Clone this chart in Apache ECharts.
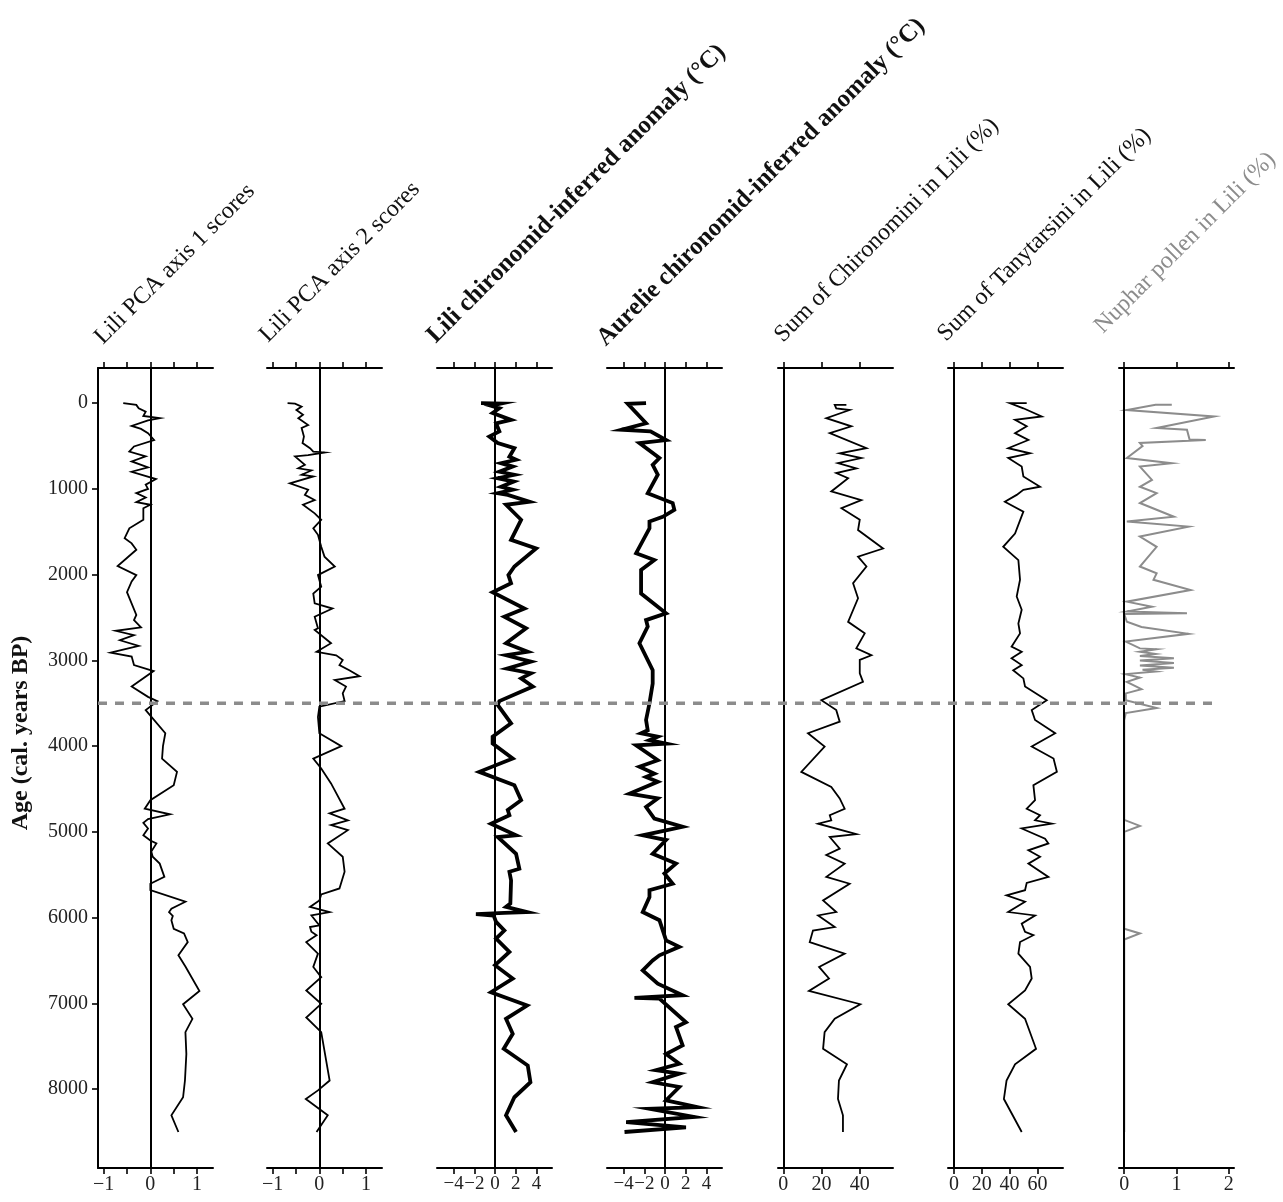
<!DOCTYPE html>
<html>
<head>
<meta charset="utf-8">
<title>Lili and Aurelie records</title>
<script src="https://cdn.jsdelivr.net/npm/echarts@6/dist/echarts.min.js"></script>
<style>
  html, body { margin: 0; padding: 0; background: #fff; }
  #chart { width: 1283px; height: 1202px; }
</style>
</head>
<body>
<div id="chart"></div>
<script>
// every record is a list of [age (cal. years BP), value]
const pca1 = [[0,-0.58],[20,-0.3],[60,-0.25],[100,-0.1],[150,-0.15],[175,0.2],[200,-0.05],[265,-0.4],[300,-0.2],[350,-0.05],[430,0.08],[505,-0.35],[565,-0.45],[620,-0.1],[680,-0.4],[750,-0.05],[800,-0.4],[885,0.12],[950,-0.1],[1000,-0.05],[1050,-0.3],[1100,-0.1],[1155,-0.3],[1185,0.0],[1225,-0.15],[1360,-0.15],[1460,-0.45],[1575,-0.55],[1635,-0.4],[1710,-0.3],[1900,-0.7],[2005,-0.3],[2080,-0.4],[2205,-0.5],[2270,-0.45],[2470,-0.3],[2530,-0.35],[2615,-0.2],[2655,-0.74],[2705,-0.35],[2765,-0.65],[2830,-0.25],[2910,-0.85],[2955,-0.4],[3055,-0.35],[3125,0.07],[3305,-0.4],[3425,-0.05],[3475,0.15],[3580,-0.1],[3850,0.32],[4000,0.27],[4145,0.25],[4300,0.57],[4455,0.5],[4630,0.0],[4730,-0.12],[4795,0.42],[4850,-0.05],[4895,-0.15],[4960,-0.05],[5040,-0.15],[5100,0.0],[5135,0.13],[5230,0.02],[5290,0.05],[5370,0.2],[5525,0.3],[5605,0.0],[5680,0.0],[5815,0.75],[5895,0.45],[5935,0.4],[5980,0.48],[6030,0.45],[6130,0.5],[6185,0.72],[6285,0.8],[6440,0.6],[6570,0.75],[6855,1.05],[7010,0.7],[7180,0.9],[7335,0.75],[7590,0.77],[7900,0.74],[8095,0.7],[8305,0.45],[8500,0.6]];

const pca2 = [[0,-0.68],[5,-0.52],[40,-0.38],[80,-0.49],[135,-0.35],[175,-0.45],[255,-0.24],[290,-0.38],[390,-0.33],[465,-0.36],[525,-0.2],[565,-0.13],[575,0.11],[605,-0.24],[620,-0.52],[720,-0.31],[760,-0.45],[785,-0.17],[835,-0.38],[855,-0.13],[935,-0.63],[1010,-0.24],[1070,-0.31],[1130,-0.1],[1185,-0.35],[1285,-0.1],[1360,0.04],[1460,-0.13],[1535,-0.03],[1675,0.04],[1790,0.11],[1905,0.33],[2005,-0.03],[2140,0.04],[2220,-0.13],[2335,-0.1],[2395,0.28],[2490,-0.1],[2625,-0.03],[2645,-0.1],[2800,0.25],[2900,-0.06],[2940,0.36],[2995,0.5],[3055,0.43],[3115,0.64],[3185,0.86],[3230,0.33],[3305,0.57],[3385,0.5],[3475,0.54],[3540,0.0],[3660,-0.03],[3850,0.0],[4000,0.47],[4145,-0.13],[4260,0.04],[4435,0.25],[4730,0.54],[4785,0.22],[4865,0.61],[4920,0.25],[4980,0.61],[5135,0.18],[5290,0.5],[5465,0.54],[5660,0.43],[5730,0.04],[5800,0.0],[5875,-0.2],[5935,0.22],[5975,-0.17],[6090,0.0],[6110,-0.2],[6165,-0.17],[6205,-0.06],[6285,-0.28],[6420,-0.03],[6575,-0.13],[6695,0.04],[6850,-0.28],[7005,0.04],[7165,-0.28],[7335,0.04],[7355,0.08],[7900,0.22],[8015,-0.03],[8115,-0.29],[8305,0.18],[8500,-0.06]];

const liliTemp = [[0,-1.35],[5,0.58],[30,-0.39],[60,0.42],[115,-0.23],[195,1.55],[235,0.1],[330,0.42],[390,-0.55],[465,0.26],[525,1.87],[625,1.39],[660,2.03],[700,0.58],[740,1.71],[800,0.42],[835,1.87],[875,0.26],[915,1.81],[975,0.58],[1010,1.71],[1050,0.26],[1070,1.23],[1150,3.32],[1185,1.06],[1360,2.52],[1595,1.55],[1695,3.97],[1905,1.87],[2005,1.29],[2100,1.55],[2205,-0.23],[2395,2.84],[2490,0.9],[2625,3.0],[2800,1.06],[2900,3.16],[2940,1.06],[3015,3.48],[3095,1.16],[3150,3.48],[3210,2.52],[3305,3.65],[3475,0.42],[3520,0.26],[3735,1.55],[3890,-0.23],[3970,-0.23],[4145,1.71],[4300,-1.52],[4455,1.87],[4630,2.52],[4745,1.23],[4805,1.39],[4905,-0.39],[5040,2.03],[5060,0.26],[5255,2.03],[5430,2.35],[5465,1.39],[5565,1.55],[5835,1.48],[5875,1.06],[5935,3.1],[5945,0.9],[5960,-1.84],[5975,-0.13],[6050,0.1],[6150,0.9],[6245,0.1],[6400,1.39],[6555,0.0],[6710,1.71],[6870,-0.39],[7025,3.1],[7180,1.06],[7355,1.71],[7530,0.84],[7725,3.16],[7920,3.42],[8095,1.87],[8305,1.06],[8500,2.03]];

const aurelieTemp = [[0,-1.83],[8,-3.6],[235,-1.83],[310,-4.2],[330,-1.4],[430,0.1],[465,-2.47],[640,-0.54],[720,-1.19],[835,-0.7],[1050,-1.67],[1165,0.74],[1245,0.9],[1325,-0.22],[1380,-1.5],[1460,-1.5],[1750,-2.79],[1830,-1.03],[1945,-2.31],[2220,-2.31],[2450,0.1],[2530,-1.83],[2605,-1.67],[2800,-2.47],[3115,-1.19],[3270,-1.19],[3500,-1.5],[3695,-1.83],[3815,-1.67],[3850,-2.31],[3890,-0.7],[3930,-1.5],[3970,0.1],[3990,-2.79],[4165,-0.7],[4240,-2.47],[4320,-1.03],[4360,-1.83],[4415,-0.7],[4555,-3.43],[4610,-0.7],[4710,-1.83],[4845,-1.03],[4940,1.7],[5040,-2.15],[5095,0.1],[5255,-1.19],[5370,1.06],[5485,-0.06],[5605,0.74],[5680,-1.5],[5760,-1.5],[5935,-2.15],[6030,-0.54],[6265,0.1],[6340,1.38],[6440,-0.54],[6500,-1.19],[6615,-2.15],[6770,-0.7],[6905,1.7],[6935,-2.95],[6945,-0.54],[7220,2.02],[7275,1.06],[7490,1.7],[7590,0.1],[7705,1.38],[7780,-0.87],[7820,1.38],[7920,-1.19],[7975,1.38],[8130,0.1],[8210,3.14],[8230,-1.5],[8325,2.82],[8385,-3.75],[8445,2.02],[8500,-3.91]];

const chironomini = [[20,33],[20,26.9],[60,27.7],[80,34.7],[175,22.5],[270,35.6],[350,24.3],[525,43.5],[585,29.5],[640,40.8],[700,28.6],[760,38.2],[815,27.7],[875,33.9],[1030,25.1],[1130,40.8],[1225,30.4],[1360,40.0],[1480,39.1],[1695,52.2],[1790,39.1],[1905,43.5],[2100,36.5],[2275,39.1],[2550,33.9],[2685,42.6],[2860,38.2],[2940,46.1],[2995,40.0],[3150,40.0],[3250,41.7],[3465,19.9],[3580,27.7],[3715,29.5],[3850,12.9],[4005,21.6],[4300,9.4],[4475,25.1],[4610,29.5],[4730,32.1],[4805,24.3],[4865,25.1],[4905,18.2],[5025,38.2],[5060,24.3],[5195,29.5],[5270,22.5],[5370,32.1],[5525,22.5],[5605,34.7],[5800,20.8],[5935,27.7],[5975,18.2],[6110,26.9],[6150,15.5],[6285,13.8],[6420,32.1],[6575,18.7],[6710,23.9],[6855,13.4],[7010,40.3],[7180,26.9],[7335,21.6],[7530,20.8],[7710,33.3],[7900,29.1],[8115,28.6],[8305,31.2],[8500,31.2]];

const tanytarsini = [[0,52.3],[0,40.2],[60,49.9],[155,63.1],[195,43.9],[270,52.3],[350,43.9],[430,53.5],[525,39.0],[585,54.7],[640,39.0],[740,48.7],[855,49.9],[975,61.9],[1010,49.9],[1070,45.1],[1150,36.6],[1265,49.9],[1520,43.9],[1675,35.4],[1830,46.3],[2060,47.5],[2255,45.1],[2410,48.7],[2570,46.3],[2685,47.5],[2840,41.4],[2900,48.7],[2975,41.4],[3055,48.7],[3115,42.6],[3210,49.9],[3305,51.1],[3465,66.7],[3580,55.9],[3695,58.3],[3850,72.8],[4005,55.9],[4145,71.6],[4300,74.0],[4455,57.1],[4630,58.3],[4730,52.3],[4805,61.9],[4865,58.3],[4905,70.4],[4960,48.7],[5080,65.5],[5135,67.9],[5215,53.5],[5290,61.9],[5370,53.5],[5525,67.9],[5595,52.3],[5680,51.1],[5740,37.8],[5815,51.1],[5935,39.0],[5975,58.3],[6070,48.7],[6165,51.1],[6205,57.1],[6285,47.5],[6420,46.3],[6575,54.7],[6710,55.9],[6850,51.1],[7010,39.0],[7180,51.1],[7530,59.0],[7710,43.9],[7900,37.8],[8115,35.9],[8500,48.7]];

const nuphar = [[20,0.91],[20,0.6],[80,0.05],[155,1.72],[290,0.62],[310,1.2],[425,1.25],[430,1.56],[465,0.3],[500,0.35],[640,0.05],[700,0.91],[740,0.3],[895,0.53],[975,0.3],[1050,0.62],[1165,0.3],[1325,0.95],[1380,0.05],[1440,1.23],[1555,0.3],[1675,0.62],[1905,0.3],[1985,0.62],[2060,0.56],[2180,1.27],[2315,0.05],[2375,0.53],[2430,0.05],[2450,1.2],[2460,0.0],[2550,0.05],[2610,0.33],[2690,1.23],[2780,0.03],[2860,0.3],[2870,0.62],[2900,0.3],[2925,0.6],[2950,0.3],[2975,0.95],[3000,0.3],[3030,0.95],[3060,0.3],[3085,0.95],[3110,0.35],[3130,0.6],[3160,0.03],[3200,0.3],[3250,0.05],[3335,0.33],[3385,0.03],[3465,0.03],[3555,0.62],[3615,0.03],[3700,0],[4860,0],[4930,0.3],[5000,0],[6130,0],[6185,0.3],[6255,0],[8500,0]];

const ageTicks = [0, 1000, 2000, 3000, 4000, 5000, 6000, 7000, 8000];
const boundaryAge = 3500;
const ageMin = -410, ageMax = 8920;

const FONT = '"Liberation Serif", "Times New Roman", serif';
const gridLefts = [98, 267, 437, 607, 778, 948, 1119];
const GRID_TOP = 368, GRID_W = 115, GRID_H = 800;

const panels = [
  { title: 'Lili PCA axis 1 scores', data: pca1, min: -1.12, max: 1.34, ticks: [-1, -0.5, 0, 0.5, 1], labels: [-1, 0, 1], lw: 1.8, color: '#000', bold: false, tx: 107, ty: 349, lf: 20 },
  { title: 'Lili PCA axis 2 scores', data: pca2, min: -1.12, max: 1.34, ticks: [-1, -0.5, 0, 0.5, 1], labels: [-1, 0, 1], lw: 1.8, color: '#000', bold: false, tx: 272, ty: 347, lf: 20 },
  { title: 'Lili chironomid-inferred anomaly (°C)', data: liliTemp, min: -5.6, max: 5.5, ticks: [-4, -2, 0, 2, 4], labels: [-4, -2, 0, 2, 4], lw: 3.8, color: '#000', bold: true, tx: 440, ty: 348, lf: 19 },
  { title: 'Aurelie chironomid-inferred anomaly (°C)', data: aurelieTemp, min: -5.6, max: 5.5, ticks: [-4, -2, 0, 2, 4], labels: [-4, -2, 0, 2, 4], lw: 3.8, color: '#000', bold: true, tx: 610, ty: 351, lf: 19 },
  { title: 'Sum of Chironomini in Lili (%)', data: chironomini, min: -2.8, max: 57.4, ticks: [0, 20, 40], labels: [0, 20, 40], lw: 1.8, color: '#000', bold: false, tx: 787, ty: 347, lf: 20 },
  { title: 'Sum of Tanytarsini in Lili (%)', data: tanytarsini, min: -4.3, max: 78.4, ticks: [0, 20, 40, 60], labels: [0, 20, 40, 60], lw: 1.8, color: '#000', bold: false, tx: 950, ty: 346, lf: 20 },
  { title: 'Nuphar pollen in Lili (%)', data: nuphar, min: -0.1, max: 2.1, ticks: [0, 1, 2], labels: [0, 1, 2], lw: 2, color: '#8c8c8c', bold: false, tx: 1107, ty: 338, lf: 20 }
];

const minus = v => String(v).replace('-', '\u2212');

const grid = [], xAxis = [], yAxis = [], series = [], graphic = [];

panels.forEach((p, i) => {
  grid.push({ left: gridLefts[i], top: GRID_TOP, width: GRID_W, height: GRID_H });

  const base = {
    type: 'value', gridIndex: i, min: p.min, max: p.max,
    axisLine: { onZero: false, lineStyle: { color: '#000', width: 2 } },
    axisTick: { customValues: p.ticks, length: 6, lineStyle: { color: '#000', width: 1.6 } },
    splitLine: { show: false }
  };
  xAxis.push(Object.assign({}, base, { position: 'top', axisLabel: { show: false } }));
  xAxis.push(Object.assign({}, base, {
    position: 'bottom',
    axisLabel: {
      customValues: p.labels, margin: 7, fontFamily: FONT, fontSize: p.lf, color: '#222',
      showMinLabel: true, showMaxLabel: true, hideOverlap: false, formatter: minus
    }
  }));

  yAxis.push({
    type: 'value', gridIndex: i, inverse: true, min: ageMin, max: ageMax,
    show: i === 0,
    axisLine: { onZero: false, lineStyle: { color: '#000', width: 2 } },
    axisTick: { customValues: ageTicks, length: 6, lineStyle: { color: '#000', width: 1.6 } },
    axisLabel: {
      customValues: ageTicks, margin: 10, fontFamily: FONT, fontSize: 20, color: '#222',
      formatter: v => String(v)
    },
    splitLine: { show: false }
  });

  series.push({
    type: 'line', xAxisIndex: 2 * i + 1, yAxisIndex: i,
    data: p.data.map(d => [d[1], d[0]]),
    showSymbol: false, symbol: 'none', silent: true, z: 2,
    lineStyle: { color: p.color, width: p.lw, join: 'miter' }
  });
  // zero line
  series.push({
    type: 'line', xAxisIndex: 2 * i + 1, yAxisIndex: i, data: [], z: 3, silent: true,
    markLine: {
      silent: true, symbol: ['none', 'none'], label: { show: false },
      lineStyle: { color: '#000', width: 2, type: 'solid' },
      emphasis: { disabled: true },
      data: [{ xAxis: 0 }]
    }
  });

  graphic.push({
    type: 'text', x: p.tx, y: p.ty, rotation: Math.PI / 4, silent: true,
    style: {
      text: p.title, fontFamily: FONT, fontSize: p.bold ? 25 : 24, fontWeight: p.bold ? 'bold' : 'normal',
      fill: p.color === '#000' ? '#111' : p.color,
      align: 'left', verticalAlign: 'bottom', textAlign: 'left', textVerticalAlign: 'bottom'
    }
  });
});

// overlay grid for the dashed boundary across all panels
grid.push({ left: 98, top: GRID_TOP, width: 1122, height: GRID_H });
xAxis.push({ type: 'value', gridIndex: 7, min: 0, max: 1, show: false });
yAxis.push({ type: 'value', gridIndex: 7, inverse: true, min: ageMin, max: ageMax, show: false });
series.push({
  type: 'line', xAxisIndex: 14, yAxisIndex: 7, z: 5, silent: true,
  data: [[0, boundaryAge], [1, boundaryAge]],
  showSymbol: false, symbol: 'none',
  lineStyle: { color: '#8c8c8c', width: 3.5, type: [9, 8] }
});

graphic.push({
  type: 'text', x: 21, y: 733, rotation: Math.PI / 2, silent: true,
  style: {
    text: 'Age (cal. years BP)', fontFamily: FONT, fontSize: 24, fontWeight: 'bold', fill: '#111',
    align: 'center', verticalAlign: 'middle', textAlign: 'center', textVerticalAlign: 'middle'
  }
});

const chart = echarts.init(document.getElementById('chart'));
chart.setOption({
  animation: false,
  backgroundColor: '#fff',
  grid, xAxis, yAxis, series, graphic
});
</script>
</body>
</html>
